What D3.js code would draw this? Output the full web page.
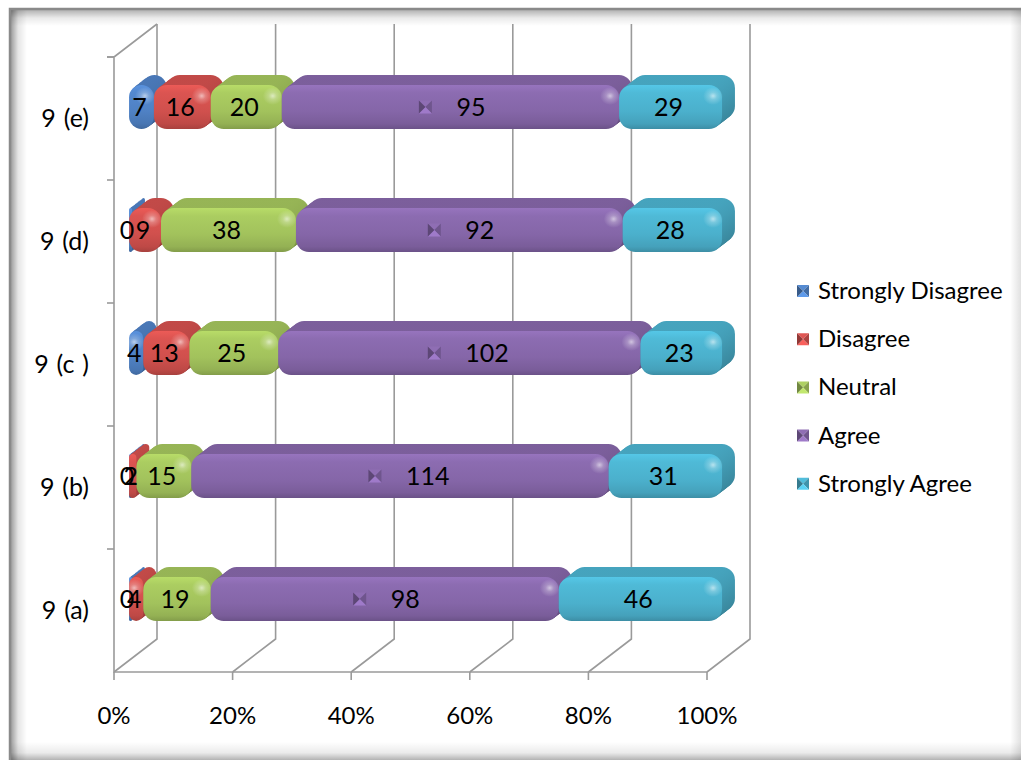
<!DOCTYPE html>
<html>
<head>
<meta charset="utf-8">
<script src="https://cdn.jsdelivr.net/npm/d3@7"></script>
<style>
  html, body { margin: 0; padding: 0; background: #ffffff; }
  svg { display: block; }
  text { font-family: Lato, "Open Sans", sans-serif; fill: #000; }
</style>
</head>
<body>
<svg id="chart" width="1021" height="760"></svg>
<script>
// Survey responses per item (counts)
const categories = ["9 (a)", "9 (b)", "9 (c )", "9 (d)", "9 (e)"];
const seriesNames = ["Strongly Disagree", "Disagree", "Neutral", "Agree", "Strongly Agree"];
const stronglyDisagree = [0, 0, 4, 0, 7];
const disagree = [4, 2, 13, 9, 16];
const neutral = [19, 15, 25, 38, 20];
const agree = [98, 114, 102, 92, 95];
const stronglyAgree = [46, 31, 23, 28, 29];
const tickValues = [0, 0.2, 0.4, 0.6, 0.8, 1];

const seriesValues = [stronglyDisagree, disagree, neutral, agree, stronglyAgree];
const faceColors = ["#4f81c4", "#d0504d", "#a2c25c", "#8566a8", "#4bb0cc"];
const keyedSeries = "Agree"; // labels of this series carry a legend key

const rows = categories.map((c, i) => {
  const r = { category: c };
  seriesNames.forEach((s, j) => { r[s] = seriesValues[j][i]; });
  return r;
});
const stacked = d3.stack().keys(seriesNames).offset(d3.stackOffsetExpand)(rows);

const svg = d3.select("#chart");
const defs = svg.append("defs");

// ---------- frame with soft inner shading ----------
function strip(id, x1, y1, x2, y2, stops) {
  const g = defs.append("linearGradient").attr("id", id)
    .attr("x1", x1).attr("y1", y1).attr("x2", x2).attr("y2", y2);
  stops.forEach(s => g.append("stop").attr("offset", s[0]).attr("stop-color", "#000").attr("stop-opacity", s[1]));
}
strip("shTop", 0, 0, 0, 1, [[0, 0.3], [0.5, 0.08], [1, 0]]);
strip("shLeft", 0, 0, 1, 0, [[0, 0.38], [0.45, 0.1], [1, 0]]);
strip("shBottom", 0, 0, 0, 1, [[0, 0], [0.6, 0.08], [1, 0.3]]);
strip("shRight", 0, 0, 1, 0, [[0, 0], [1, 0.12]]);

const frame = svg.append("g");
frame.append("rect").attr("x", 10).attr("y", 9).attr("width", 1011).attr("height", 751).attr("fill", "#fff");
frame.append("rect").attr("x", 11).attr("y", 10).attr("width", 1010).attr("height", 16).attr("fill", "url(#shTop)");
frame.append("rect").attr("x", 11).attr("y", 10).attr("width", 16).attr("height", 750).attr("fill", "url(#shLeft)");
frame.append("rect").attr("x", 11).attr("y", 742).attr("width", 1010).attr("height", 18).attr("fill", "url(#shBottom)");
frame.append("rect").attr("x", 1010).attr("y", 10).attr("width", 11).attr("height", 750).attr("fill", "url(#shRight)");
frame.append("path").attr("d", "M10,760 V9 H1021").attr("fill", "none").attr("stroke", "#8a8a8a").attr("stroke-width", 2.5);

// ---------- 3D plot geometry ----------
const x = d3.scaleLinear().domain([0, 1]).range([114, 707]);
const y = d3.scaleBand().domain(categories).range([672, 57]);
const DEPTH = [43, -33];                       // offset of the back wall
const proj = (px, py, d) => [px + d * DEPTH[0], py + d * DEPTH[1]];
const gridColor = "#9a9a9a";

const grid = svg.append("g").attr("fill", "none").attr("stroke", gridColor).attr("stroke-width", 1.6);
const line = d3.line();
const yTop = y.range()[1], yBot = y.range()[0];

// back wall verticals + floor diagonals for each percent tick
tickValues.forEach(t => {
  const b0 = proj(x(t), yBot, 1), b1 = proj(x(t), yTop, 1);
  grid.append("path").attr("d", line([b1, b0, [x(t), yBot]]));
});
// side wall edge and front axes
grid.append("path").attr("d", line([proj(x(0), yTop, 1), [x(0), yTop], [x(0), yBot], [x(1), yBot]]));
// category ticks on the front vertical axis
const catEdges = categories.map(c => y(c)).concat([yTop]);
catEdges.forEach(v => grid.append("path").attr("d", line([[x(0) - 7, v], [x(0), v]])));
// percent ticks on the front baseline
tickValues.forEach(t => grid.append("path").attr("d", line([[x(t), yBot], [x(t), yBot + 8]])));

// tick labels
svg.append("g").selectAll("text").data(tickValues).join("text")
  .attr("x", d => x(d)).attr("y", 724).attr("text-anchor", "middle")
  .attr("font-size", 24).text(d => d3.format(".0%")(d));

svg.append("g").selectAll("text").data(categories).join("text")
  .attr("x", 89).attr("y", d => y(d) + y.bandwidth() / 2 + 8).attr("text-anchor", "end")
  .attr("font-size", 25).attr("word-spacing", 1.5).style("white-space", "pre").text(d => d);

// ---------- bars ----------
const bar = { d0: 0.35, d1: 0.65, h: 44, r: 13, layers: 9 };

faceColors.forEach((c, i) => {
  const base = d3.rgb(c);
  const g = defs.append("linearGradient").attr("id", "face" + i)
    .attr("x1", 0).attr("y1", 0).attr("x2", 0).attr("y2", 1);
  [[0, base.brighter(0.35)], [0.18, base.brighter(0.15)], [0.6, base], [0.88, base.darker(0.25)], [1, base.darker(0.6)]]
    .forEach(s => g.append("stop").attr("offset", s[0]).attr("stop-color", s[1].formatHex()));
  const sg = defs.append("linearGradient").attr("id", "side" + i)
    .attr("x1", 0).attr("y1", 0).attr("x2", 0).attr("y2", 1);
  [[0, base.darker(0.2)], [1, base.darker(0.8)]]
    .forEach(s => sg.append("stop").attr("offset", s[0]).attr("stop-color", s[1].formatHex()));
});
const spot = defs.append("radialGradient").attr("id", "spot");
spot.append("stop").attr("offset", 0).attr("stop-color", "#fff").attr("stop-opacity", 0.6);
spot.append("stop").attr("offset", 0.4).attr("stop-color", "#fff").attr("stop-opacity", 0.25);
spot.append("stop").attr("offset", 1).attr("stop-color", "#fff").attr("stop-opacity", 0);

const bars = svg.append("g");
categories.forEach((cat, ci) => {
  const cy = y(cat) + y.bandwidth() / 2;
  stacked.forEach((layer, si) => {
    const seg = layer[ci];
    const x0 = x(seg[0]), x1 = x(seg[1]);
    const w = Math.max(x1 - x0, 3);
    const rr = Math.min(bar.r, w / 2);
    const gSeg = bars.append("g");
    // extruded body, stepping from the back face to the front face
    for (let k = bar.layers; k >= 1; k--) {
      const d = bar.d0 + (bar.d1 - bar.d0) * k / bar.layers;
      const [px, py] = proj(x0, cy - bar.h / 2, d);
      gSeg.append("rect").attr("x", px).attr("y", py).attr("width", w).attr("height", bar.h)
        .attr("rx", rr).attr("ry", rr).attr("fill", `url(#side${si})`);
    }
    const [fx, fy] = proj(x0, cy - bar.h / 2, bar.d0);
    gSeg.append("rect").attr("x", fx).attr("y", fy).attr("width", w).attr("height", bar.h)
      .attr("rx", rr).attr("ry", rr).attr("fill", `url(#face${si})`);
    if (w > 14) {
      gSeg.append("ellipse").attr("cx", fx + w - 9).attr("cy", fy + 11)
        .attr("rx", 10).attr("ry", 9).attr("fill", "url(#spot)");
    }
  });
});

// ---------- data labels ----------
// legend key drawn as a bevelled square (four shaded triangles)
function keyMarker(g, cx, cy, s, color) {
  const c = d3.rgb(color);
  const h = s / 2;
  const pts = { tl: [cx - h, cy - h], tr: [cx + h, cy - h], br: [cx + h, cy + h], bl: [cx - h, cy + h], c: [cx, cy] };
  const tri = [
    [[pts.tl, pts.tr, pts.c], c.brighter(0.2)],
    [[pts.tr, pts.br, pts.c], c.darker(0.5)],
    [[pts.br, pts.bl, pts.c], c.brighter(0.5)],
    [[pts.bl, pts.tl, pts.c], c.darker(1.0)]
  ];
  tri.forEach(t => g.append("path").attr("d", d3.line()(t[0]) + "Z").attr("fill", t[1].formatHex()));
}

const labels = svg.append("g");
categories.forEach((cat, ci) => {
  const cy = y(cat) + y.bandwidth() / 2;
  stacked.forEach((layer, si) => {
    const seg = layer[ci];
    const v = seriesValues[si][ci];
    const [fx, fy] = proj((x(seg[0]) + x(seg[1])) / 2, cy, bar.d0);
    const lx = fx - 2, ly = fy + 9;
    if (seriesNames[si] === keyedSeries) {
      keyMarker(labels, lx - 23, fy, 13, faceColors[si]);
      labels.append("text").attr("x", lx + 8).attr("y", ly).attr("text-anchor", "start")
        .attr("font-size", 25).text(v);
    } else {
      labels.append("text").attr("x", lx).attr("y", ly).attr("text-anchor", "middle")
        .attr("font-size", 25).text(v);
    }
  });
});

// ---------- legend ----------
const legend = svg.append("g").attr("transform", "translate(797,291)");
seriesNames.forEach((s, i) => {
  const g = legend.append("g").attr("transform", `translate(0,${i * 48.2})`);
  keyMarker(g, 6, 0, 12, faceColors[i]);
  g.append("text").attr("x", 21).attr("y", 8).attr("font-size", 24).text(s);
});
</script>
</body>
</html>
